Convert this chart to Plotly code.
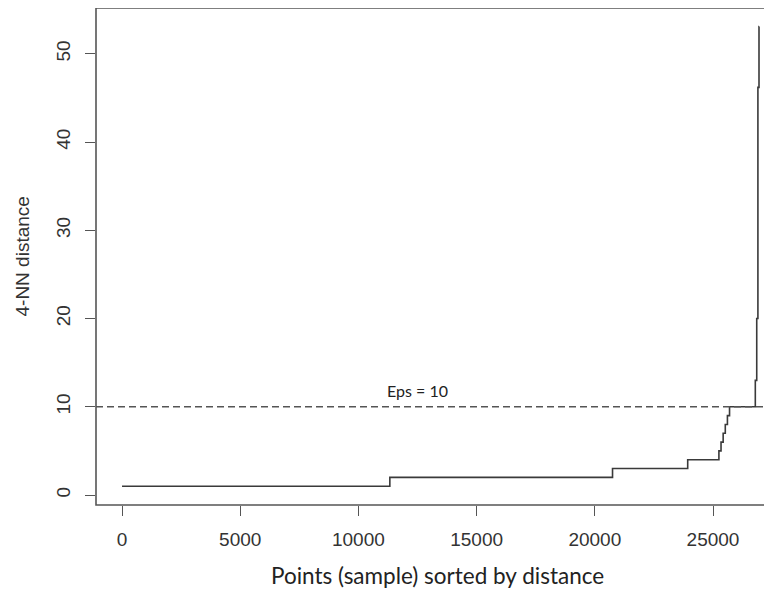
import plotly.graph_objects as go

# Step function: start index of each level and the level value (4-NN distance)
step_starts = [1, 11330, 20750, 23930, 25250, 25340, 25430, 25520, 25610, 25700, 26790, 26850, 26900, 26946]
step_levels = [1, 2, 3, 4, 5, 6, 7, 8, 9, 10, 13, 20, 46.2, 53.1]
n_points = 26950
eps_value = 10

x_ticks = [0, 5000, 10000, 15000, 20000, 25000]
x_tick_text = ["0", "5000", "10000", "15000", "20000", "25000"]
y_ticks = [0, 10, 20, 30, 40, 50]
y_tick_text = ["0", "10", "20", "30", "40", "50"]

xs = step_starts + [n_points]
ys = step_levels + [step_levels[-1]]

fig = go.Figure()
fig.add_trace(go.Scatter(
    x=xs, y=ys, mode="lines", line=dict(shape="hv", color="#3a3a3a", width=1.6),
    showlegend=False, hoverinfo="skip"))

line_col = "#555555"
fig.add_shape(type="rect", xref="paper", yref="paper", x0=0, x1=1.05, y0=0, y1=1,
              line=dict(color=line_col, width=1.6), fillcolor="rgba(0,0,0,0)", layer="above")
fig.add_shape(type="line", xref="paper", yref="y", x0=0, x1=1, y0=eps_value, y1=eps_value,
              line=dict(color="#555555", width=1.4, dash="7px,4px"))

fig.add_annotation(x=12520, y=11.9, xref="x", yref="y", text="Eps = 10", showarrow=False,
                   font=dict(family="Lato", size=16, color="#222222"), xanchor="center", yanchor="middle")
fig.add_annotation(x=0.505, y=-0.141, xref="paper", yref="paper", text="Points (sample) sorted by distance",
                   showarrow=False, font=dict(family="Lato", size=22.5, color="#222222"),
                   xanchor="center", yanchor="middle")
fig.add_annotation(x=-0.108, y=0.5, xref="paper", yref="paper", text="4-NN distance", textangle=-90,
                   showarrow=False, font=dict(family="Liberation Sans", size=19, color="#333333"),
                   xanchor="center", yanchor="middle")

fig.update_layout(
    width=764, height=585,
    margin=dict(l=88, r=0, t=0, b=88),
    plot_bgcolor="white", paper_bgcolor="white",
    xaxis=dict(range=[-1100, 27496], tickvals=x_ticks, ticktext=x_tick_text, ticks="outside", ticklen=10,
               tickcolor=line_col, tickwidth=1.4, showgrid=False, zeroline=False, showline=False,
               tickfont=dict(family="Liberation Sans", size=19, color="#333333"),
               ticklabelstandoff=7),
    yaxis=dict(range=[-1.13, 55.2], tickvals=y_ticks, ticktext=y_tick_text, ticks="outside", ticklen=10,
               tickcolor=line_col, tickwidth=1.4, showgrid=False, zeroline=False, showline=False,
               tickangle=-90,
               tickfont=dict(family="Liberation Sans", size=19, color="#333333"),
               ticklabelstandoff=7),
)

fig.write_html("out.html")
